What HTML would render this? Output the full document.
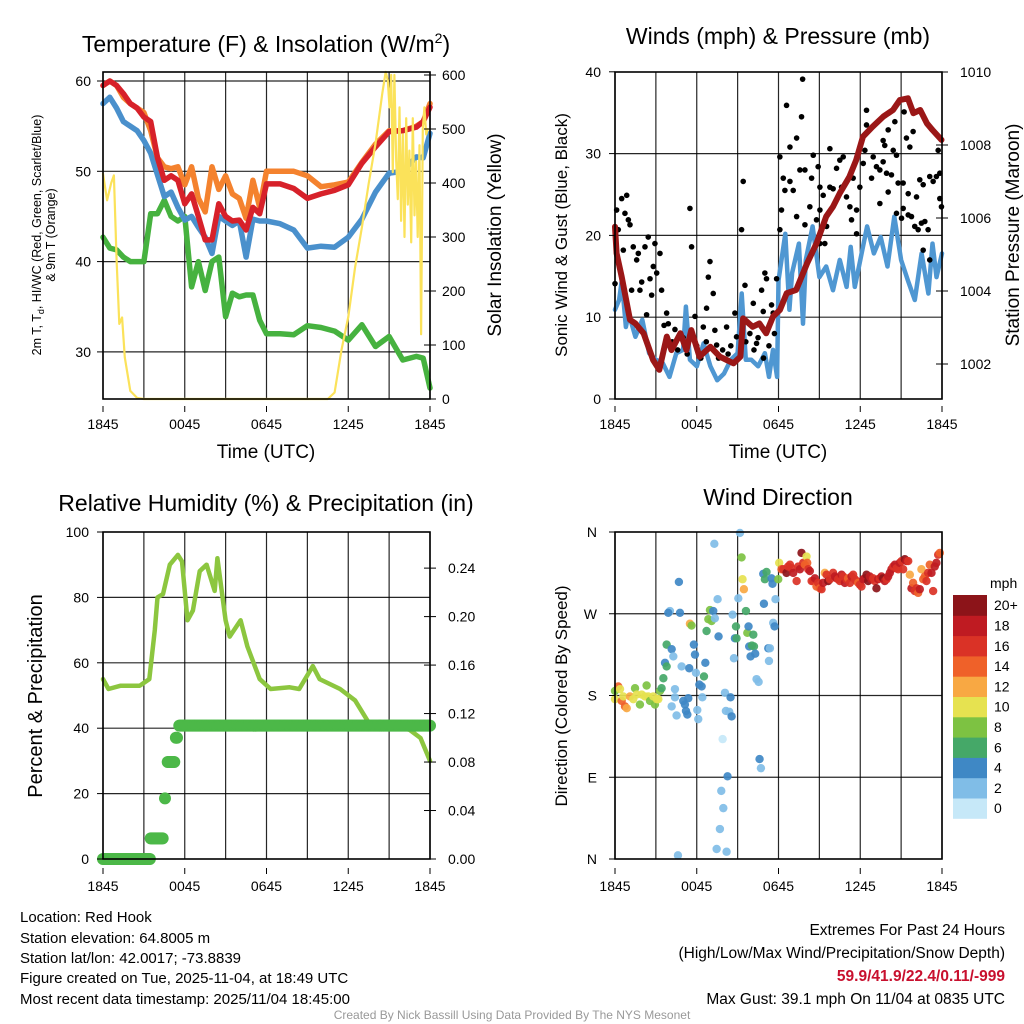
<!DOCTYPE html>
<html><head><meta charset="utf-8"><style>
html,body{margin:0;padding:0;background:#fff;}
svg{display:block;font-family:"Liberation Sans",sans-serif;}
</style></head><body>
<svg id="chart" width="1024" height="1024" viewBox="0 0 1024 1024" xmlns="http://www.w3.org/2000/svg">
<rect width="1024" height="1024" fill="#fff"/>
<g id="g1"></g>
<g id="g2"></g>
<g id="g3"></g>
<g id="g4"></g>
<g font-size="23" text-anchor="middle">
<text x="266" y="52">Temperature (F) &amp; Insolation (W/m<tspan dy="-9" font-size="14">2</tspan><tspan dy="9">)</tspan></text>
<text x="778" y="44">Winds (mph) &amp; Pressure (mb)</text>
<text x="266" y="511">Relative Humidity (%) &amp; Precipitation (in)</text>
<text x="778" y="505">Wind Direction</text>
</g>
<g text-anchor="middle">
<text x="266" y="458" font-size="19">Time (UTC)</text>
<text x="778" y="458" font-size="19">Time (UTC)</text>
<text transform="translate(41,235) rotate(-90)" font-size="12.5">2m T, T<tspan font-size="9" dy="3">d</tspan><tspan dy="-3">, HI/WC (Red, Green, Scarlet/Blue)</tspan></text>
<text transform="translate(55,235) rotate(-90)" font-size="12.5">&amp; 9m T (Orange)</text>
<text transform="translate(501,235) rotate(-90)" font-size="19">Solar Insolation (Yellow)</text>
<text transform="translate(567,235) rotate(-90)" font-size="17">Sonic Wind &amp; Gust (Blue, Black)</text>
<text transform="translate(1019,235) rotate(-90)" font-size="19">Station Pressure (Maroon)</text>
<text transform="translate(42,696) rotate(-90)" font-size="20">Percent &amp; Precipitation</text>
<text transform="translate(567,696) rotate(-90)" font-size="17">Direction (Colored By Speed)</text>
</g>
<g id="cbar"></g>
<g font-size="15">
<text x="20" y="922">Location: Red Hook</text>
<text x="20" y="943">Station elevation: 64.8005 m</text>
<text x="20" y="963">Station lat/lon: 42.0017; -73.8839</text>
<text x="20" y="983">Figure created on Tue, 2025-11-04, at 18:49 UTC</text>
<text x="20" y="1004">Most recent data timestamp: 2025/11/04 18:45:00</text>
</g>
<g font-size="15.5" text-anchor="end">
<text x="1005" y="935">Extremes For Past 24 Hours</text>
<text x="1005" y="958">(High/Low/Max Wind/Precipitation/Snow Depth)</text>
<text x="1005" y="981" fill="#c8102e" font-weight="bold">59.9/41.9/22.4/0.11/-999</text>
<text x="1005" y="1004">Max Gust: 39.1 mph On 11/04 at 0835 UTC</text>
</g>
<text x="512" y="1019" font-size="12" fill="#999" text-anchor="middle">Created By Nick Bassill Using Data Provided By The NYS Mesonet</text>
</svg>
<script>
// ---------- DATA ----------
const timeTickHours=[0,6,12,18,24];
const timeTickLabels=["1845","0045","0645","1245","1845"];
const tempTicks=[30,40,50,60];
const solarTicks=[0,100,200,300,400,500,600];
const hourT=[0,0.5,1,1.5,2,2.5,3,3.5,4,4.5,5,5.5,6,6.5,7,7.5,8,8.5,9,9.5,10,10.5,11,11.5,12,13,14,15,16,17,18,19,20,21,22,23,23.5,24];
const tempRed=[59.5,60,59.5,58.6,57.5,57,56,55.5,51.5,49,49.5,49,46.4,47.5,45,42.4,42.4,46.4,45,44.5,44.6,43.5,46,45.3,48.6,48.6,48.1,47,47.5,47.9,48.5,50.9,52.7,54.4,54.5,54.9,55.5,57.1];
const tempOrange=[59.5,60,59.5,58.2,57.5,57,56.5,54.5,51.5,50.5,50.3,50.5,48.5,50.5,47,45.5,50.5,48,49.5,47.5,47,44.8,49,46,50,50,50,49.5,48.3,48.5,48.8,51,53,54.5,54.5,55,55.5,57.5];
const tempBlue=[57.5,58.2,57,55.5,55,54.5,53.4,52,49.6,47.2,47.7,46,44.6,45,43.8,42.7,40.9,45,44.5,44,44.5,40.5,44.7,44.5,44.5,44.2,43.5,41.5,41.7,41.6,42.7,44.7,47.7,49.8,50,51.6,51.5,54.2];
const tempGreen=[42.7,41.5,41.3,40.5,40,40,40,45.3,45.3,46.8,45,44.5,45,37.2,40,36.8,40,40.5,33.9,36.5,36.1,36.3,36.3,33.5,32,32,31.9,32.9,32.7,32.3,31.3,33,30.6,31.7,29.1,29.5,29.3,26];
const solarT=[0,0.3,0.6,0.8,1.0,1.2,1.4,1.6,2,2.5,3,16.5,17,17.5,18,18.5,19,19.5,20,20.5,20.75,20.9,21.03,21.15,21.27,21.39,21.52,21.64,21.76,21.88,22,22.13,22.25,22.37,22.49,22.62,22.74,22.86,22.98,23.1,23.23,23.35,23.47,23.59,23.72,23.84];
const solarV=[417,368,400,414,257,139,151,77,15,2,0,0,12,90,152,244,318,399,473,566,606,590,540,600,420,600,440,370,540,330,490,300,520,360,460,290,520,340,440,300,470,120,500,540,490,500];

const windTicks=[0,10,20,30,40];
const pressTicks=[1002,1004,1006,1008,1010];
const sonicT=[0,0.3,0.5,0.8,1,1.5,2,2.5,3,3.5,4,4.5,5,5.2,5.5,6,6.5,7,7.5,8,8.5,9,9.3,9.6,10,10.5,11,11.3,11.6,11.9,12,12.5,12.8,13,13.5,13.8,14,14.5,15,15.5,16,16.5,17,17.3,17.6,18,18.5,19,19.5,20,20.5,21,21.5,22,22.5,23,23.3,23.6,24];
const sonicV=[10.9,12.1,14.5,8.8,10.5,7.6,9.7,5.6,4.8,4.4,2.7,5.6,6,11.3,4.8,4,6.8,4,2.3,3.1,4.8,5.6,12.9,4.8,4.8,4,5.6,2.7,6,2.7,14.5,20.2,10.9,15.4,19,9.2,17,21.1,14.9,16.2,13.3,17,13.7,18.6,13.7,17,21.1,17.8,19.8,16.2,22.3,17,14.5,12.1,17.8,12.9,19,14.9,17.8];
const pressT=[0,0.12,0.49,1.1,1.5,2.1,2.8,3.25,3.8,4.15,4.8,5.25,5.6,6.2,7.0,7.7,8.2,8.7,9.2,9.4,10.1,10.6,11.1,11.6,12.1,12.6,13.3,14.1,14.8,15.5,16,16.5,17.2,17.7,18.2,18.9,19.7,20.4,20.9,21.5,21.9,22.4,22.9,23.3,23.96];
const pressV=[1005.76,1005.03,1004.39,1003.21,1003.11,1002.84,1002.11,1001.84,1002.75,1002.38,1002.84,1002.38,1002.93,1002.2,1002.47,1002.2,1002.11,1002.02,1002.2,1003.25,1003.02,1003.11,1002.84,1003.3,1003.48,1003.94,1004.03,1004.76,1005.31,1006.04,1006.31,1006.68,1007.13,1007.59,1008.23,1008.5,1008.78,1008.96,1009.23,1009.28,1008.87,1008.96,1008.59,1008.41,1008.14];
const gustObs=[[0.12,23.1],[0.24,20.7],[0.49,24.5],[0.86,24.9],[0.73,22.7],[0.98,21.9],[1.1,21.3],[0.61,18.2],[0,14.1],[1.34,18.6],[1.71,17.8],[1.59,17],[2.2,18.6],[2.44,19.8],[2.93,19],[3.3,17.8],[2.81,16.2],[3.06,15.4],[2.57,14.7],[1.96,14.3],[1.83,13.3],[1.22,13.3],[2.69,12.7],[3.42,13.3],[3.79,10.5],[3.91,9.2],[2.32,10.3],[5.5,23.3],[5.62,18.6],[6.97,16.8],[6.85,14.9],[7.21,12.9],[6.72,11.1],[5.87,10.1],[6.48,8.8],[7.33,8.4],[7.46,6.6],[8.19,8.8],[8.8,10.5],[8.92,7.6],[9.41,26.6],[9.29,20.7],[9.54,13.9],[10.15,11.7],[10.76,13.3],[11,15.4],[11.12,14.7],[11.49,11.5],[10.88,10.7],[10.39,6.8],[11.61,10.5],[11.86,14.7],[12.1,20.7],[12.22,23.1],[12.1,29.6],[12.59,35.9],[13.77,39.1],[13.69,34.5],[12.84,30.8],[13.33,31.9],[12.35,27],[12.84,26.6],[13.08,25.5],[13.57,28],[13.94,28],[14.43,27],[14.55,29.8],[14.91,28.4],[15.04,25.9],[12.47,25.5],[14.3,23.5],[15.04,23.1],[13.33,22.3],[13.94,21.3],[14.79,21.9],[15.04,19],[15.4,19],[15.53,21.1],[15.77,25.9],[15.28,24.9],[16.01,25.7],[16.5,29.2],[16.75,29.6],[16.26,28.2],[16.63,25.9],[16.99,24.7],[17.24,23.5],[15.77,30.6],[17.48,27],[17.97,25.9],[17.73,23.1],[17.36,21.9],[17.73,20.2],[18.46,35.3],[18.46,33.5],[18.34,30.4],[18.22,28.8],[18.95,29.6],[19.19,28.4],[19.68,29],[18.83,27],[19.44,28],[19.93,27.6],[20.29,27.4],[20.05,25.3],[19.44,23.9],[19.68,31.6],[19.8,31],[20.05,32.9],[20.54,33.9],[20.42,30.4],[20.66,29.8],[21.22,35.1],[21.39,31.9],[21.64,30.8],[20.78,26.4],[21.15,26.4],[21.52,25.1],[22.13,24.7],[22.37,26.8],[22.62,26.2],[23.1,27.2],[23.35,26.6],[23.59,27.2],[23.72,30.4],[23.84,27.6],[23.84,24.5],[23.96,23.5],[21.88,32.7],[22,21.1],[22.25,20.7],[22.49,21.5],[22.74,21.7],[22.98,20.7],[22.62,18.2],[23.1,17],[20.66,22.7],[21.03,22.1],[21.15,23.3],[21.52,22.5],[21.76,22.3],[4.2,7],[4.6,6],[5,7.5],[5.3,5.5],[6,6.5],[6.3,5],[6.7,7],[7.6,5],[7.9,6],[8.3,5.5],[8.5,6.5],[9.6,7],[9.9,8],[10.2,6],[10.5,7.5],[10.9,5],[11.3,6.5],[11.7,8],[3.6,9],[4.4,8.5]];

const rhTicks=[0,20,40,60,80,100];
const precipTicks=[0,0.04,0.08,0.12,0.16,0.20,0.24];
const precipTickLabels=["0.00","0.04","0.08","0.12","0.16","0.20","0.24"];
const rhT=[0,0.4,1.3,2.7,3.4,3.8,4.0,4.4,4.9,5.5,5.8,6.2,6.6,7.1,7.6,8.2,8.4,9.0,9.3,10.1,10.6,11.5,12.3,13.7,14.4,15.4,15.9,17.4,18.5,19.6,20.3,22.5,23.3,24];
const rhV=[55,52,53,53,55,70,80,81,90,93,91,73,76,88,90,82,92,73,68,73,65,55,52,52.5,52,59,55,52,48.5,41,42,39.5,37,30];
const precipSegStart=[0,3.5,4.55,4.75,5.35,5.6];
const precipSegEnd=[3.45,4.45,4.6,5.3,5.5,24];
const precipSegVal=[0,0.017,0.05,0.08,0.10,0.11];

const dirTickDeg=[0,90,180,270,360];
const dirTickLabels=["N","E","S","W","N"];
const speedBins=[0,2,4,6,8,10,12,14,16,18,20];
const speedBinLabels=["0","2","4","6","8","10","12","14","16","18","20+"];
const windDirObs=[[0,176,10],[0,185,8],[0.24,190,14],[0.37,187,10],[0.49,174,14],[0.73,168,14],[0.86,166,12],[0.61,179,10],[1.1,179,12],[1.34,176,10],[1.47,188,8],[1.59,181,10],[1.83,170,8],[1.96,181,10],[2.2,179,10],[2.32,191,8],[2.44,179,10],[2.57,174,8],[2.81,179,10],[2.93,170,8],[3.06,176,10],[3.18,176,10],[3.3,185,8],[3.42,188,6],[3.55,199,6],[3.67,216,4],[3.79,212,6],[3.79,236,6],[4.16,231,4],[4.28,223,2],[4.03,273,2],[3.91,271,4],[4.77,271,4],[4.69,305,4],[4.4,187,2],[4.4,178,2],[4.16,168,2],[4.52,158,2],[4.89,212,2],[5.01,174,4],[5.13,170,4],[5.21,163,4],[5.31,159,4],[5.38,177,4],[5.45,210,4],[5.5,259,12],[5.62,257,8],[5.79,236,4],[5.87,225,4],[5.94,205,2],[6.04,164,2],[6.11,154,2],[6.19,192,4],[6.36,190,4],[6.41,178,2],[6.53,201,6],[6.63,216,4],[6.72,251,6],[6.85,264,8],[6.97,274,8],[7.09,262,8],[7.21,273,4],[7.33,265,2],[7.29,347,2],[7.53,286,2],[7.6,245,4],[7.9,132,0],[8.07,183,2],[8.14,163,2],[8.39,162,2],[8.48,178,4],[8.56,157,4],[8.26,91,4],[7.8,75,2],[7.95,56,2],[7.7,33,2],[7.46,11,2],[8.19,8,2],[4.62,4,2],[8.63,269,2],[8.73,221,2],[8.8,243,4],[8.92,243,6],[8.88,256,6],[9.05,287,2],[9.17,359,2],[9.29,332,8],[9.36,308,10],[9.46,297,12],[9.61,273,6],[9.71,249,8],[9.8,256,4],[9.85,234,4],[9.95,223,4],[10.05,235,6],[10.15,247,6],[10.2,234,6],[10.29,226,4],[10.39,198,2],[10.54,195,2],[10.61,110,4],[10.71,100,2],[10.88,314,4],[11.12,316,6],[11,308,6],[11.25,232,4],[11.37,232,2],[11.3,218,2],[11.49,309,4],[11.56,303,4],[10.93,281,4],[11.61,260,2],[11.71,256,4],[11.78,286,2],[11.98,308,8],[12.05,326,10],
[12.22,319,14],[12.35,319,16],[12.59,315,20],[12.71,322,16],[12.84,324,16],[12.96,320,16],[13.08,315,18],[13.33,306,16],[13.45,322,16],[13.57,319,18],[13.69,337,20],[13.81,326,16],[13.94,324,14],[14.06,333,10],[14.11,326,14],[14.18,319,16],[14.3,317,18],[14.43,306,16],[14.55,306,16],[14.67,309,18],[14.79,300,14],[14.91,304,16],[15.04,298,14],[15.16,297,16],[15.28,304,18],[15.4,315,12],[15.53,313,16],[15.65,306,20],[15.77,308,16],[16.01,315,16],[16.14,311,18],[16.26,309,18],[16.38,308,16],[16.5,306,16],[16.63,313,18],[16.75,311,16],[16.87,304,18],[16.99,308,16],[17.11,309,14],[17.24,304,16],[17.36,311,18],[17.48,313,16],[17.6,308,16],[17.73,306,16],[17.85,304,14],[17.97,302,16],[18.09,300,16],[18.22,308,18],[18.34,309,18],[18.46,313,20],[18.58,306,20],[18.7,311,18],[18.83,308,18],[18.95,309,16],[19.07,306,16],[19.19,298,20],[19.32,308,18],[19.44,309,16],[19.56,311,18],[19.68,309,20],[19.8,306,18],[19.93,308,16],[20.05,311,18],[20.17,315,18],[20.29,319,18],[20.42,322,16],[20.54,324,18],[20.66,320,16],[20.78,319,16],[20.9,326,18],[21.03,328,16],[21.15,319,16],[21.27,330,20],[21.39,328,18],[21.52,328,16],[21.64,313,12],[21.76,298,18],[21.88,304,14],[22,295,16],[22.13,298,16],[22.25,293,14],[22.37,297,18],[22.49,319,12],[22.62,308,14],[22.74,311,14],[22.86,306,16],[22.98,315,16],[23.1,324,14],[23.23,315,18],[23.35,295,16],[23.47,322,18],[23.59,326,18],[23.72,335,16],[23.84,337,14]];

// ---------- RENDER ----------
const NS="http://www.w3.org/2000/svg";
function mk(parent,tag,attrs){const e=document.createElementNS(NS,tag);for(const k in attrs)e.setAttribute(k,attrs[k]);parent.appendChild(e);return e;}
function txt(parent,x,y,s,size,anchor){const e=mk(parent,'text',{x:x,y:y,'font-size':size,'text-anchor':anchor});e.textContent=s;return e;}
const speedColors=["#c6e8f8","#80bde7","#3f88c5","#45a868","#7dc242","#e6e250","#f8a843","#ef6129","#da3226","#bf1b22","#8c1419"];
function speedColor(s){let i=Math.min(10,Math.max(0,Math.round(s/2)));return speedColors[i];}

function frame(g,x0,y0,x1,y1,nv,hTicksY){
  for(let i=0;i<=nv;i++){const x=x0+(x1-x0)*i/nv;
    const l=mk(g,'line',{x1:x,y1:y0,x2:x,y2:y1,stroke:'#000','stroke-width':1.2,'stroke-opacity':0.85});
    
    }
  hTicksY.forEach(y=>{const l=mk(g,'line',{x1:x0,y1:y,x2:x1,y2:y,stroke:'#000','stroke-width':1.2,'stroke-opacity':0.85});
    
    });
}
function border(g,x0,y0,x1,y1){const r=mk(g,'rect',{x:x0,y:y0,width:x1-x0,height:y1-y0,fill:'none',stroke:'#000','stroke-width':1.6});
  
  }
function timeLabels(g,xf,y){timeTickHours.forEach((h,i)=>{const t=txt(g,xf(h),y,timeTickLabels[i],14,'middle');
  
  
  mk(g,'line',{x1:xf(h),y1:y-23,x2:xf(h),y2:y-17,stroke:'#000'});});}
function poly(g,xs,ys,color,w,name){const pts=xs.map((x,i)=>x.toFixed(1)+','+ys[i].toFixed(1)).join(' ');
  const p=mk(g,'polyline',{points:pts,fill:'none',stroke:color,'stroke-width':w,'stroke-linejoin':'round','stroke-linecap':'round'});
  
  return p;}

// Panel 1
(function(){const g=document.getElementById('g1');const X0=103,X1=430,Y0=72,Y1=399;
  const x=t=>X0+t*(X1-X0)/24, yT=v=>81+(60-v)*9.03, yS=s=>399-s*0.54;
  frame(g,X0,Y0,X1,Y1,8,tempTicks.map(yT));
  poly(g,hourT.map(x),tempGreen.map(yT),'#46b23f',5.5,'dewpoint-line');
  poly(g,hourT.map(x),tempBlue.map(yT),'#4a90cc',5.5,'heat-index-line');
  poly(g,hourT.map(x),tempOrange.map(yT),'#f4822e',5.5,'temp-9m-line');
  poly(g,hourT.map(x),tempRed.map(yT),'#d7212a',5.5,'temp-2m-line');
  poly(g,solarT.map(x),solarV.map(yS),'#fbe25a',2.2,'solar-line');
  border(g,X0,Y0,X1,Y1);
  tempTicks.forEach(v=>{const t=txt(g,X0-12,yT(v)+5,String(v),14,'end');
    
    
    mk(g,'line',{x1:X0-6,y1:yT(v),x2:X0,y2:yT(v),stroke:'#000'});});
  solarTicks.forEach(v=>{const t=txt(g,X1+12,yS(v)+5,String(v),14,'start');
    
    
    mk(g,'line',{x1:X1-6,y1:yS(v),x2:X1+6,y2:yS(v),stroke:'#000'});});
  timeLabels(g,x,429);
})();

// Panel 2
(function(){const g=document.getElementById('g2');const X0=615,X1=942,Y0=72,Y1=399;
  const x=t=>X0+t*(X1-X0)/24, yW=v=>399-v*8.18, yP=p=>72+(1010-p)*36.5;
  frame(g,X0,Y0,X1,Y1,8,[10,20,30].map(yW));
  poly(g,sonicT.map(x),sonicV.map(yW),'#4f97d2',4.5,'sonic-wind-line');
  gustObs.forEach(o=>{const c=mk(g,'circle',{cx:x(o[0]),cy:yW(o[1]),r:2.8,fill:'#000'});
    
    });
  poly(g,pressT.map(x),pressV.map(yP),'#9b1717',6,'pressure-line');
  border(g,X0,Y0,X1,Y1);
  windTicks.forEach(v=>{const t=txt(g,X0-14,yW(v)+5,String(v),14,'end');
    
    
    mk(g,'line',{x1:X0-6,y1:yW(v),x2:X0,y2:yW(v),stroke:'#000'});});
  pressTicks.forEach(v=>{const t=txt(g,X1+18,yP(v)+5,String(v),14,'start');
    
    
    mk(g,'line',{x1:X1-6,y1:yP(v),x2:X1+6,y2:yP(v),stroke:'#000'});});
  timeLabels(g,x,429);
})();

// Panel 3
(function(){const g=document.getElementById('g3');const X0=103,X1=430,Y0=532,Y1=859;
  const x=t=>X0+t*(X1-X0)/24, yR=v=>859-v*3.27, yP=p=>859-p*1212;
  frame(g,X0,Y0,X1,Y1,8,[20,40,60,80].map(yR));
  poly(g,rhT.map(x),rhV.map(yR),'#8cc63f',4.5,'humidity-line');
  precipSegStart.forEach((s,i)=>{for(let t=s;t<=precipSegEnd[i]+1e-6;t+=0.08){
    const c=mk(g,'circle',{cx:x(t),cy:yP(precipSegVal[i]),r:6,fill:'#4cb848'});
    
    }});
  border(g,X0,Y0,X1,Y1);
  rhTicks.forEach(v=>{const t=txt(g,X0-14,yR(v)+5,String(v),14,'end');
    
    
    mk(g,'line',{x1:X0-6,y1:yR(v),x2:X0,y2:yR(v),stroke:'#000'});});
  precipTicks.forEach((v,i)=>{const t=txt(g,X1+18,yP(v)+5,precipTickLabels[i],14,'start');
    
    
    mk(g,'line',{x1:X1-6,y1:yP(v),x2:X1+6,y2:yP(v),stroke:'#000'});});
  timeLabels(g,x,891);
})();

// Panel 4
(function(){const g=document.getElementById('g4');const X0=615,X1=942,Y0=532,Y1=859;
  const x=t=>X0+t*(X1-X0)/24, yD=d=>859-d*(Y1-Y0)/360;
  frame(g,X0,Y0,X1,Y1,8,[90,180,270].map(yD));
  windDirObs.forEach(o=>{const c=mk(g,'circle',{cx:x(o[0]),cy:yD(o[1]),r:4.2,fill:speedColor(o[2]),'fill-opacity':0.92});
    
    });
  border(g,X0,Y0,X1,Y1);
  dirTickDeg.forEach((d,i)=>{const t=txt(g,X0-18,yD(d)+5,dirTickLabels[i],14,'end');
    
    
    mk(g,'line',{x1:X0-6,y1:yD(d),x2:X0,y2:yD(d),stroke:'#000'});});
  timeLabels(g,x,891);
  const cb=document.getElementById('cbar');
  const u=txt(cb,990,588,'mph',14,'start');
  
  
  const bh=20.3;
  speedBins.forEach((s,i)=>{const row=10-i;const y=595+row*bh;
    const r=mk(cb,'rect',{x:953,y:y,width:34,height:bh+0.5,fill:speedColor(s)});
    
    
    const t=txt(cb,994,y+bh/2+5,speedBinLabels[i],14,'start');
    
    });
})();
</script>
</body></html>
